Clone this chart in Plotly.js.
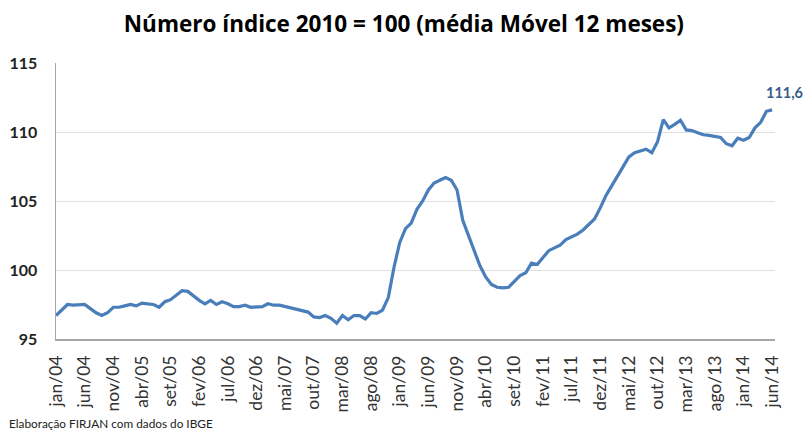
<!DOCTYPE html>
<html>
<head>
<meta charset="utf-8">
<script src="https://cdn.plot.ly/plotly-3.0.1.min.js"></script>
<style>
html,body{margin:0;padding:0;background:#fff;}
#chart{width:803px;height:430px;}
</style>
</head>
<body>
<div id="chart"></div>
<script>
var monthNames = ["jan","fev","mar","abr","mai","jun","jul","ago","set","out","nov","dez"];
var startYear = 4;

var values = [
  96.7, 97.1, 97.5, 97.45, 97.5, 97.5, 97.2, 96.9, 96.7, 96.9,
  97.3, 97.3, 97.4, 97.5, 97.4, 97.6, 97.55, 97.5, 97.3, 97.7,
  97.85, 98.2, 98.5, 98.45, 98.1, 97.8, 97.55, 97.8, 97.5, 97.7,
  97.55, 97.35, 97.35, 97.45, 97.3, 97.3, 97.35, 97.55, 97.45, 97.45,
  97.35, 97.25, 97.15, 97.0, 96.95, 96.6, 96.55, 96.7, 96.5, 96.15,
  96.7, 96.4, 96.7, 96.7, 96.45, 96.9, 96.85, 97.1, 98.0, 100.2,
  102.0, 103.0, 103.4, 104.4, 105.0, 105.8, 106.3, 106.5, 106.7, 106.5,
  105.8, 103.6, 102.5, 101.3, 100.3, 99.5, 98.95, 98.75, 98.7, 98.75,
  99.2, 99.6, 99.8, 100.5, 100.4, 100.9, 101.4, 101.6, 101.8, 102.2,
  102.4, 102.6, 102.9, 103.3, 103.7, 104.5, 105.4, 106.1, 106.8, 107.5,
  108.2, 108.5, 108.6, 108.75, 108.5, 109.3, 110.9, 110.3, 110.55, 110.85,
  110.15, 110.1, 109.95, 109.8, 109.75, 109.65, 109.6, 109.15, 109.0, 109.55,
  109.4, 109.6, 110.3, 110.7, 111.5, 111.6
];

var lastLabel = "111,6";
var tickStep = 5;

var months = [];
for (var i = 0; i < values.length; i++) {
  var yy = startYear + Math.floor(i / 12);
  months.push(monthNames[i % 12] + "/" + (yy < 10 ? "0" + yy : "" + yy));
}
var tickVals = [];
for (var j = 0; j < months.length; j += tickStep) tickVals.push(months[j]);

var trace = {
  x: months,
  y: values,
  type: "scatter",
  mode: "lines",
  line: {color: "#4A7EBB", width: 3.2},
  hoverinfo: "skip"
};

var layout = {
  width: 803,
  height: 430,
  margin: {l: 56, r: 28, t: 63, b: 91},
  paper_bgcolor: "#ffffff",
  plot_bgcolor: "#ffffff",
  showlegend: false,
  title: {
    text: "<b>Número índice 2010 = 100 (média Móvel 12 meses)</b>",
    font: {family: "'Open Sans', sans-serif", size: 22.5, color: "#000000"},
    x: 0.503, xanchor: "center", y: 0.945, yanchor: "middle"
  },
  xaxis: {
    type: "category",
    range: [0, values.length - 0.5],
    tickmode: "array",
    tickvals: tickVals,
    ticktext: tickVals,
    tickangle: -90,
    ticks: "",
    ticklabelstandoff: 8,
    showgrid: false,
    showline: true,
    linecolor: "#a6a6a6",
    linewidth: 1.5,
    tickfont: {family: "Lato, 'Open Sans', sans-serif", size: 17.5, color: "#333333"},
    automargin: false
  },
  yaxis: {
    range: [95, 115],
    dtick: 5,
    tick0: 95,
    showgrid: true,
    gridcolor: "#e0e0e0",
    gridwidth: 1,
    zeroline: false,
    showline: true,
    linecolor: "#a6a6a6",
    linewidth: 1.5,
    ticks: "",
    ticklabelstandoff: 14,
    tickfont: {family: "Lato, 'Open Sans', sans-serif", size: 16, color: "#222222", weight: "bold"},
    automargin: false
  },
  annotations: [
    {
      x: months[months.length - 1],
      y: values[values.length - 1],
      text: "<b>" + lastLabel + "</b>",
      showarrow: false,
      xanchor: "center",
      yanchor: "bottom",
      yshift: 7,
      xshift: 12,
      font: {family: "Lato, 'Open Sans', sans-serif", size: 14.5, color: "#385D8A"}
    },
    {
      xref: "paper", yref: "paper",
      x: -0.068, y: -0.305,
      xanchor: "left", yanchor: "middle",
      text: "Elaboração FIRJAN com dados do IBGE",
      showarrow: false,
      font: {family: "Lato, 'Open Sans', sans-serif", size: 11.8, color: "#222222"}
    }
  ]
};

Plotly.newPlot("chart", [trace], layout, {displayModeBar: false, staticPlot: true});
</script>
</body>
</html>
